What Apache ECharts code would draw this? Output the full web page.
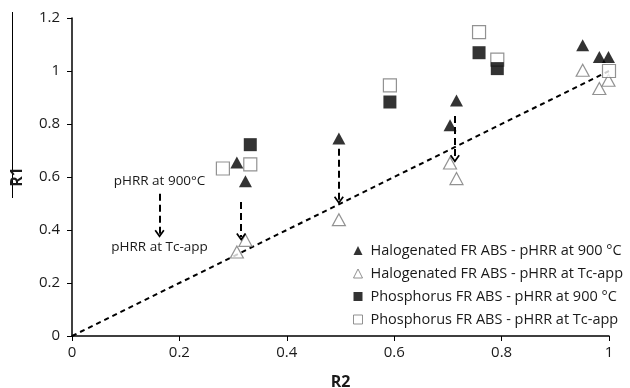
<!DOCTYPE html>
<html>
<head>
<meta charset="utf-8">
<script src="https://cdn.jsdelivr.net/npm/echarts@6/dist/echarts.min.js"></script>
<style>
  html, body { margin: 0; padding: 0; background: #fff; }
  #chart { width: 630px; height: 388px; }
</style>
</head>
<body>
<div id="chart"></div>
<script>
// 数据
var seriesNames = [
  'Halogenated FR ABS - pHRR at 900 °C',
  'Halogenated FR ABS - pHRR at Tc-app',
  'Phosphorus FR ABS - pHRR at 900 °C',
  'Phosphorus FR ABS - pHRR at Tc-app'
];
var halo900 = [[0.307, 0.655], [0.323, 0.584], [0.497, 0.745], [0.704, 0.795], [0.716, 0.889], [0.951, 1.097], [0.982, 1.053], [0.999, 1.053]];
var haloTc = [[0.307, 0.317], [0.323, 0.361], [0.497, 0.439], [0.704, 0.653], [0.716, 0.594], [0.951, 1.003], [0.982, 0.934], [0.999, 0.965]];
var phos900 = [[0.332, 0.722], [0.592, 0.883], [0.758, 1.069], [0.792, 1.009]];
var phosTc = [[0.281, 0.632], [0.332, 0.648], [0.592, 0.946], [0.758, 1.147], [0.792, 1.043], [1.0, 1.0]];
var diagonal = [[0, 0], [1, 1]];
// 箭头 (起点, 终点)
var arrows = [
  [[0.163, 0.537], [0.163, 0.386]],
  [[0.315, 0.506], [0.315, 0.374]],
  [[0.497, 0.707], [0.497, 0.512]],
  [[0.713, 0.830], [0.713, 0.669]]
];
var notes = [
  { text: 'pHRR at 900°C', pos: [0.163, 0.585] },
  { text: 'pHRR at Tc-app', pos: [0.163, 0.334] }
];
var xTicks = [0, 0.2, 0.4, 0.6, 0.8, 1];
var yTicks = [0, 0.2, 0.4, 0.6, 0.8, 1, 1.2];

var chevron = 'path://M0,7 L5,0 L10,7 L8.6,8 L5,3 L1.4,8 Z';
var fontFam = '"Open Sans", "Liberation Sans", sans-serif';

let myChart = echarts.init(document.getElementById('chart'));
let option = {
  animation: false,
  textStyle: { fontFamily: fontFam },
  grid: {
    left: 72,
    right: 21,
    top: 18,
    bottom: 52,
    containLabel: false,
    outerBoundsMode: 'none'
  },
  legend: {
    orient: 'vertical',
    left: 348,
    top: 238,
    itemWidth: 9,
    itemHeight: 9,
    itemGap: 8,
    textStyle: { fontSize: 14.5, color: '#1a1a1a', fontFamily: fontFam, padding: [0, 0, 0, 3] },
    data: [
      { name: seriesNames[0], icon: 'triangle', itemStyle: { color: '#000', borderWidth: 0 } },
      { name: seriesNames[1], icon: 'triangle', itemStyle: { color: '#fff', borderColor: '#777', borderWidth: 1 } },
      { name: seriesNames[2], icon: 'rect', itemStyle: { color: '#000', borderWidth: 0 } },
      { name: seriesNames[3], icon: 'rect', itemStyle: { color: '#fff', borderColor: '#777', borderWidth: 1 } }
    ]
  },
  xAxis: {
    type: 'value',
    min: 0,
    max: 1,
    interval: 0.2,
    name: 'R2',
    nameLocation: 'middle',
    nameGap: 38,
    nameTextStyle: { fontSize: 16, fontWeight: 'bold', color: '#1a1a1a' },
    axisLine: { show: true, lineStyle: { color: '#000', width: 1.5 } },
    axisTick: { show: true, inside: false, length: 5, lineStyle: { color: '#000' } },
    axisLabel: {
      fontSize: 15, color: '#1a1a1a', margin: 9,
      formatter: function (v) { return xTicks.indexOf(v) >= 0 ? String(v) : ''; }
    },
    splitLine: { show: false }
  },
  yAxis: {
    type: 'value',
    min: 0,
    max: 1.2,
    interval: 0.2,
    name: 'R1',
    nameLocation: 'middle',
    nameGap: 47,
    nameTextStyle: { fontSize: 16, fontWeight: 'bold', color: '#1a1a1a' },
    axisLine: { show: true, lineStyle: { color: '#000', width: 1.5 } },
    axisTick: { show: true, inside: false, length: 5, lineStyle: { color: '#000' } },
    axisLabel: {
      fontSize: 15, color: '#1a1a1a', margin: 12,
      formatter: function (v) {
        var t = yTicks.find(function (k) { return Math.abs(k - v) < 1e-9; });
        return t === undefined ? '' : String(t);
      }
    },
    splitLine: { show: false }
  },
  graphic: [
    {
      type: 'line',
      shape: { x1: 12.5, y1: 12, x2: 12.5, y2: 198 },
      style: { stroke: '#000', lineWidth: 1 }
    }
  ],
  series: [
    {
      name: 'y=x',
      type: 'line',
      data: diagonal,
      symbol: 'none',
      silent: true,
      z: 1,
      lineStyle: { color: '#000', width: 2, type: [5, 4] },
      markLine: {
        silent: true,
        symbol: ['none', chevron],
        symbolSize: [10, 8],
        label: { show: false },
        lineStyle: { color: '#000', width: 2, type: [7, 4] },
        data: arrows.map(function (a) {
          return [{ coord: a[0] }, { coord: a[1] }];
        })
      },
      markPoint: {
        silent: true,
        symbol: 'circle',
        symbolSize: 0,
        label: {
          show: true,
          position: 'inside',
          fontSize: 13.5,
          color: '#1a1a1a',
          formatter: '{b}'
        },
        data: notes.map(function (n) {
          return { name: n.text, coord: n.pos };
        })
      }
    },
    {
      name: seriesNames[1],
      type: 'scatter',
      data: haloTc,
      symbol: 'triangle',
      symbolSize: [13, 12],
      z: 3,
      itemStyle: { color: '#fff', borderColor: '#777', borderWidth: 1.2 }
    },
    {
      name: seriesNames[3],
      type: 'scatter',
      data: phosTc,
      symbol: 'rect',
      symbolSize: 13,
      z: 3,
      itemStyle: { color: '#fff', borderColor: '#777', borderWidth: 1.2 }
    },
    {
      name: seriesNames[0],
      type: 'scatter',
      data: halo900,
      symbol: 'triangle',
      symbolSize: [13, 12],
      z: 4,
      itemStyle: { color: '#000' }
    },
    {
      name: seriesNames[2],
      type: 'scatter',
      data: phos900,
      symbol: 'rect',
      symbolSize: 13,
      z: 4,
      itemStyle: { color: '#000' }
    }
  ]
};
// 把配置给实例对象
myChart.setOption(option);
</script>
</body>
</html>
